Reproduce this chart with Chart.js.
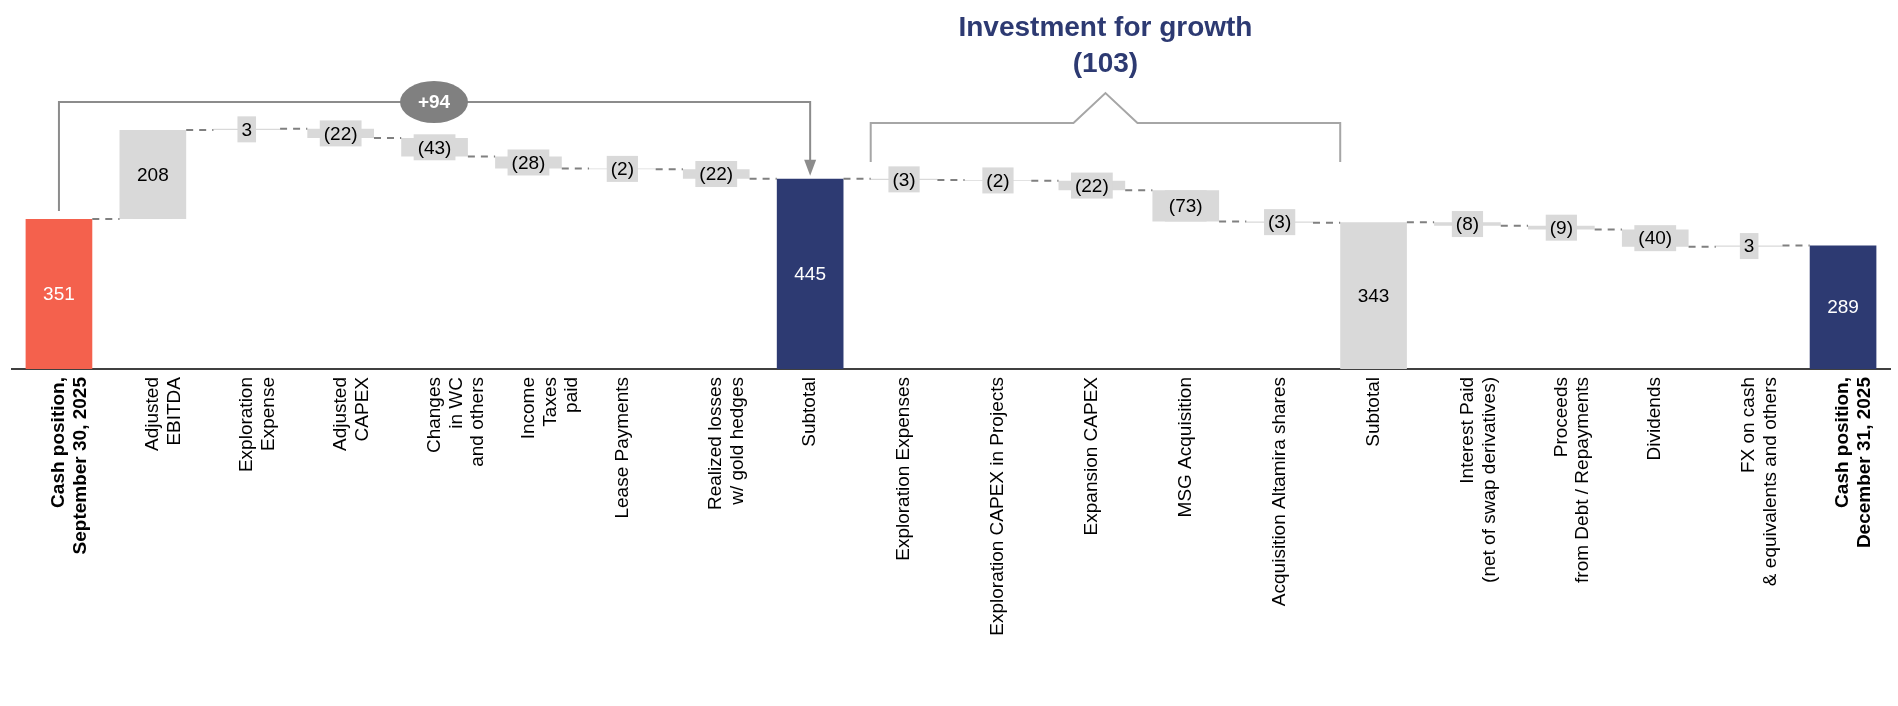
<!DOCTYPE html>
<html><head><meta charset="utf-8">
<script src="https://cdn.jsdelivr.net/npm/chart.js@4"></script>
<style>html,body{margin:0;padding:0;background:#fff}#w{width:1898px;height:706px}</style>
</head><body><div id="w"><canvas id="c"></canvas></div>
<script>
const categories = [
 ["Cash position,","September 30, 2025"],["Adjusted","EBITDA"],["Exploration","Expense"],["Adjusted","CAPEX"],
 ["Changes","in WC","and others"],["Income","Taxes","paid"],["Lease Payments"],["Realized losses","w/ gold hedges"],
 ["Subtotal"],["Exploration Expenses"],["Exploration CAPEX in Projects"],["Expansion CAPEX"],["MSG Acquisition"],
 ["Acquisition Altamira shares"],["Subtotal"],["Interest Paid","(net of swap derivatives)"],["Proceeds","from Debt / Repayments"],
 ["Dividends"],["FX on cash","& equivalents and others"],["Cash position,","December 31, 2025"]];
const deltas = [351,208,3,-22,-43,-28,-2,-22,null,-3,-2,-22,-73,-3,null,-8,-9,-40,3,null];
const totalsShown = {0:351,8:445,14:343,19:289};
const kinds = ["start","d","d","d","d","d","d","d","total","d","d","d","d","d","total2","d","d","d","d","total"];
const bracketValue = "+94";
const growthTitle = ["Investment for growth","(103)"];

const ranges=[], labels=[], colors=[];
let cum=0;
deltas.forEach((d,i)=>{
  if(d===null){ cum=totalsShown[i]; ranges.push([0,cum]); labels.push(String(cum)); }
  else if(i===0){ cum=d; ranges.push([0,d]); labels.push(String(d)); }
  else { const s=cum; cum+=d; ranges.push([Math.min(s,cum),Math.max(s,cum)]); labels.push(d<0?`(${-d})`:String(d)); }
  colors.push(kinds[i]==="start"?"#F4614D":kinds[i]==="total"?"#2D3A72":"#D9D9D9");
});
const levels=[];
{let c=0; deltas.forEach((d,i)=>{ c = d===null?totalsShown[i]:(i===0?d:c+d); levels.push(c);});}

const NARROW="'Liberation Sans Narrow','Arial Narrow','Liberation Sans',sans-serif";
const deco={id:'deco',
 afterDatasetsDraw(ch){
  const g=ch.ctx, x=ch.scales.x, y=ch.scales.y, meta=ch.getDatasetMeta(0);
  g.save(); g.strokeStyle='#808080'; g.lineWidth=2; g.setLineDash([7,6]);
  for(let i=0;i<meta.data.length-1;i++){
    const a=meta.data[i], b=meta.data[i+1], yy=y.getPixelForValue(levels[i]);
    g.beginPath(); g.moveTo(a.x+a.width/2,yy); g.lineTo(b.x-b.width/2,yy); g.stroke();
  }
  g.restore();
  meta.data.forEach((el,i)=>{
    const k=kinds[i], cy=(el.y+el.base)/2;
    g.save(); g.font=`19px ${NARROW}`; g.textAlign='center'; g.textBaseline='middle';
    if(k==="d"){
      const tw=g.measureText(labels[i]).width+8, bh=Math.max(26,Math.abs(el.base-el.y));
      g.fillStyle='#D9D9D9'; g.fillRect(el.x-tw/2,cy-bh/2,tw,bh);
      g.fillStyle='#000';
    } else g.fillStyle = k==="total2"?'#000':'#fff';
    g.fillText(labels[i],el.x,cy+1); g.restore();
  });
  const x0=meta.data[0].x, x8=meta.data[8].x, top=102;
  g.save(); g.strokeStyle='#8c8c8c'; g.lineWidth=2;
  g.beginPath(); g.moveTo(x0,meta.data[0].y-8); g.lineTo(x0,top); g.lineTo(x8,top); g.lineTo(x8,meta.data[8].y-18); g.stroke();
  g.fillStyle='#8c8c8c'; g.beginPath(); g.moveTo(x8-6,meta.data[8].y-19); g.lineTo(x8+6,meta.data[8].y-19); g.lineTo(x8,meta.data[8].y-3); g.closePath(); g.fill();
  const bx=434; g.fillStyle='#808080'; g.beginPath(); g.ellipse(bx,top,34,21,0,0,Math.PI*2); g.fill();
  g.fillStyle='#fff'; g.font=`bold 19px ${NARROW}`; g.textAlign='center'; g.textBaseline='middle'; g.fillText(bracketValue,bx,top+1);
  const L=meta.data[9].x-meta.data[9].width/2, R=meta.data[14].x-meta.data[14].width/2, by=123, pk=(L+R)/2;
  g.strokeStyle='#a6a6a6'; g.beginPath(); g.moveTo(L,162); g.lineTo(L,by); g.lineTo(pk-32,by); g.lineTo(pk,93); g.lineTo(pk+32,by); g.lineTo(R,by); g.lineTo(R,162); g.stroke();
  g.fillStyle='#2D3A72'; g.font="bold 28px 'Liberation Sans',Arial,sans-serif"; g.textBaseline='middle';
  g.fillText(growthTitle[0],pk,28); g.fillText(growthTitle[1],pk,64);
  g.restore();
 }};
new Chart(document.getElementById('c'),{
 type:'bar',
 data:{labels:categories,datasets:[{data:ranges,backgroundColor:colors,barPercentage:0.71,categoryPercentage:1,borderSkipped:false}]},
 options:{responsive:true,maintainAspectRatio:false,animation:false,
  layout:{padding:{left:12,right:8,top:0,bottom:0}},
  plugins:{legend:{display:false},tooltip:{enabled:false}},
  scales:{
   y:{display:false,min:0,max:863},
   x:{grid:{display:false,drawTicks:false},border:{color:'#404040',width:2},
      afterFit(s){s.height=337;},
      ticks:{color:'#000',minRotation:90,maxRotation:90,autoSkip:false,padding:8,
        font:c=>({family:"'Liberation Sans',Arial,sans-serif",size:19,lineHeight:1.15,weight:(c.index===0||c.index===19)?'bold':'normal'})}}}
 },
 plugins:[deco]});
</script></body></html>
